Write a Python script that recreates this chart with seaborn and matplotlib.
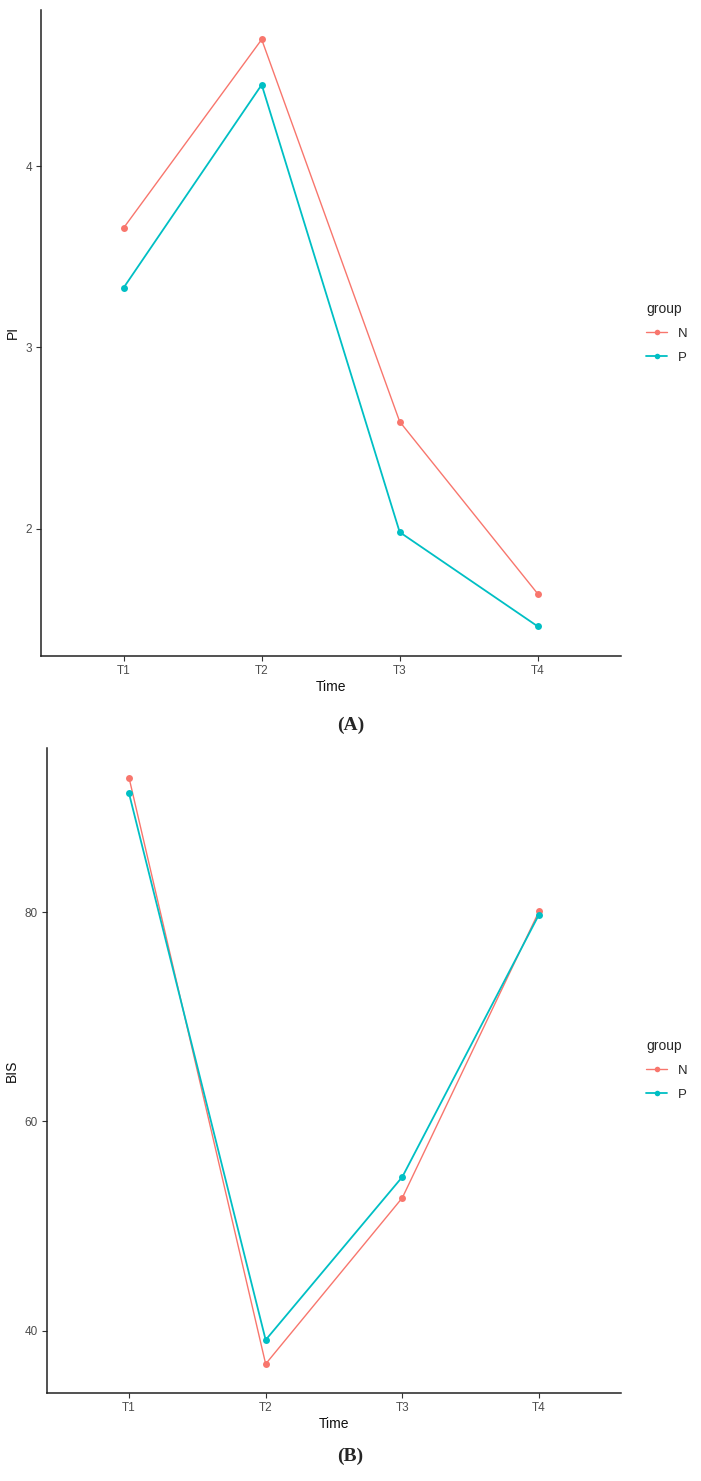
"""
Two-panel PI / BIS time-course chart (ggplot theme_classic look-alike).
"""

import numpy as np
import pandas as pd
import matplotlib
matplotlib.use("Agg")
import matplotlib.pyplot as plt
from matplotlib.lines import Line2D
import seaborn as sns

# data
times = ["T1", "T2", "T3", "T4"]
groups = ["N", "P"]
pi_n = [3.66, 4.70, 2.59, 1.64]
pi_p = [3.33, 4.45, 1.98, 1.46]
bis_n = [92.9, 36.8, 52.7, 80.1]
bis_p = [91.4, 39.1, 54.7, 79.8]

palette = {"N": "#F8766D", "P": "#00BFC4"}
widths = {"N": 1.0, "P": 1.3}


def make_df(vals_n, vals_p, name):
    return pd.DataFrame({
        "Time": times * 2,
        name: list(vals_n) + list(vals_p),
        "group": ["N"] * len(times) + ["P"] * len(times),
    })


def style_axis(ax, ylabel, yticks):
    ax.set_xlim(-0.6, 3.6)
    ax.margins(y=0.05)
    ax.set_yticks(yticks)
    ax.set_xticks(range(len(times)))
    ax.set_xticklabels(times)
    for side in ["top", "right"]:
        ax.spines[side].set_visible(False)
    for side in ["left", "bottom"]:
        ax.spines[side].set_color("#222222")
        ax.spines[side].set_linewidth(1.1)
    ax.tick_params(axis="both", bottom=True, left=True, direction="out",
                   colors="#333333", labelcolor="#4D4D4D",
                   labelsize=8.5, length=3.5, width=0.8, pad=3)
    ax.set_xlabel("Time", fontsize=10, color="#111111", labelpad=2)
    ax.set_ylabel(ylabel, fontsize=10, color="#111111", labelpad=4)
    ax.grid(False)
    if ax.get_legend() is not None:
        ax.get_legend().remove()


def draw(ax, df, yname):
    for g in groups:
        sns.lineplot(data=df[df["group"] == g], x="Time", y=yname,
                     color=palette[g], marker="o", markersize=5,
                     markeredgewidth=0, linewidth=widths[g],
                     sort=False, ax=ax)


def add_legend(fig, yc):
    handles = [
        Line2D([0], [0], color=palette[g], marker="o", markersize=4,
               markeredgewidth=0, linewidth=widths[g])
        for g in groups
    ]
    leg = fig.legend(
        handles, groups, title="group",
        loc="center left", bbox_to_anchor=(0.905, yc),
        bbox_transform=fig.transFigure,
        frameon=False, fontsize=9.5, title_fontsize=10,
        handlelength=1.6, handletextpad=0.8, labelspacing=0.9,
    )
    leg._legend_box.align = "left"


sns.set_style("white")
plt.rcParams["font.family"] = ["Liberation Sans", "DejaVu Sans"]

fig = plt.figure(figsize=(7.01, 14.81), dpi=100)
W, H = 701.0, 1481.0

# panel A
axA = fig.add_axes([40.9 / W, 1 - 655.7 / H, (620.5 - 40.9) / W, (655.7 - 10.1) / H])
draw(axA, make_df(pi_n, pi_p, "PI"), "PI")
style_axis(axA, "PI", [2, 3, 4])
add_legend(fig, 1 - 333.0 / H)

# panel B
axB = fig.add_axes([47.0 / W, 1 - 1393.3 / H, (621.0 - 47.0) / W, (1393.3 - 748.3) / H])
draw(axB, make_df(bis_n, bis_p, "BIS"), "BIS")
style_axis(axB, "BIS", [40, 60, 80])
add_legend(fig, 1 - 1070.0 / H)

# panel captions
fig.text(0.5, 1 - 725.0 / H, "(A)", ha="center", va="center",
         fontsize=14, fontweight="bold", family="Liberation Serif")
fig.text(0.5, 1 - 1456.0 / H, "(B)", ha="center", va="center",
         fontsize=14, fontweight="bold", family="Liberation Serif")

fig.savefig("out.png", dpi=100)
plt.close(fig)
